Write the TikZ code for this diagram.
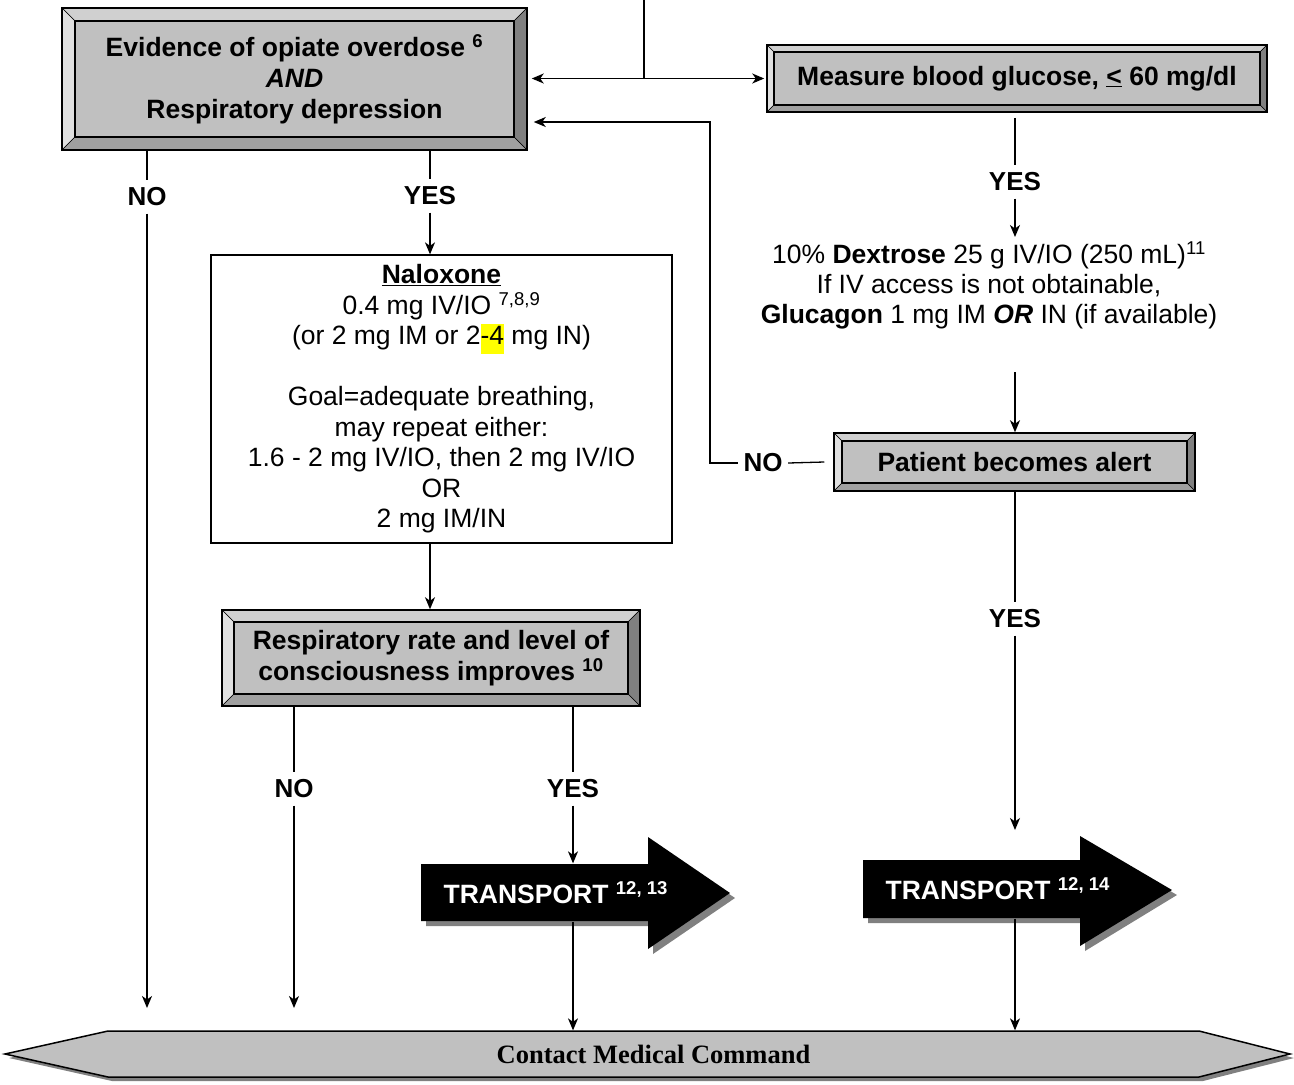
\documentclass[tikz,border=0pt]{standalone}
\usepackage{fontspec}
\setmainfont{Liberation Sans}
\newfontfamily\tnrfont{Liberation Serif}
\usetikzlibrary{arrows.meta,calc}
\setlength{\fboxsep}{0pt}
\definecolor{boxgray}{HTML}{C0C0C0}
\definecolor{bevlt}{HTML}{E0E0E0}
\definecolor{bevtp}{HTML}{D0D0D0}
\definecolor{bevrt}{HTML}{808080}
\definecolor{bevbt}{HTML}{A0A0A0}
\definecolor{shadowgray}{HTML}{808080}
\definecolor{hlyellow}{HTML}{FFFF00}
\tikzset{
  bevsize/.store in=\bevsz, bevsize=12pt,
  bevelbox/.style={draw, line width=1.5pt, fill=boxgray, inner sep=0pt, align=center,
    font=\fontsize{26.5}{31}\selectfont\bfseries,
    path picture={
      \filldraw[fill=bevtp, draw=black, line width=0.5pt]
        (path picture bounding box.north west) -- (path picture bounding box.north east)
        -- ([shift={(-\bevsz,-\bevsz)}]path picture bounding box.north east)
        -- ([shift={(\bevsz,-\bevsz)}]path picture bounding box.north west) -- cycle;
      \filldraw[fill=bevlt, draw=black, line width=0.5pt]
        (path picture bounding box.north west) -- (path picture bounding box.south west)
        -- ([shift={(\bevsz,\bevsz)}]path picture bounding box.south west)
        -- ([shift={(\bevsz,-\bevsz)}]path picture bounding box.north west) -- cycle;
      \filldraw[fill=bevrt, draw=black, line width=0.5pt]
        (path picture bounding box.north east) -- (path picture bounding box.south east)
        -- ([shift={(-\bevsz,\bevsz)}]path picture bounding box.south east)
        -- ([shift={(-\bevsz,-\bevsz)}]path picture bounding box.north east) -- cycle;
      \filldraw[fill=bevbt, draw=black, line width=0.5pt]
        (path picture bounding box.south west) -- (path picture bounding box.south east)
        -- ([shift={(-\bevsz,\bevsz)}]path picture bounding box.south east)
        -- ([shift={(\bevsz,\bevsz)}]path picture bounding box.south west) -- cycle;
      \draw[line width=1.8pt]
        ([shift={(\bevsz,\bevsz)}]path picture bounding box.south west) rectangle
        ([shift={(-\bevsz,-\bevsz)}]path picture bounding box.north east);
    }},
  arr/.style={-{Stealth[length=12pt,width=10pt,inset=3.5pt]}},
  darr/.style={{Stealth[length=12pt,width=10pt,inset=3.5pt]}-{Stealth[length=12pt,width=10pt,inset=3.5pt]}},
  lab/.style={font=\fontsize{26}{28}\selectfont\bfseries, inner xsep=5pt, inner ysep=0pt, minimum height=32pt},
  plain/.style={font=\fontsize{26.5}{30.5}\selectfont, align=center},
  body/.style={inner sep=0pt},
  transp/.style={inner sep=0pt, anchor=west, text=white, font=\fontsize{26.5}{28}\selectfont\bfseries},
}
\begin{document}
\begin{tikzpicture}[x=1pt,y=-1pt, line width=1.3pt]
\useasboundingbox (0,0) rectangle (1294,1085);

% ---------- boxes ----------
\node[bevelbox, bevsize=13pt, minimum width=465pt, minimum height=142pt] (ev) at (294.5,79)
  {Evidence of opiate overdose \textsuperscript{6}\\ \textit{AND}\\ Respiratory depression};
\node[bevelbox, bevsize=7pt, minimum width=500pt, minimum height=67pt] (glu) at (1017,78.5)
  {Measure blood glucose, \underline{<} 60 mg/dl};
\node[bevelbox, bevsize=8pt, minimum width=361pt, minimum height=58pt] (pat) at (1014.5,462)
  {Patient becomes alert};
\node[bevelbox, bevsize=12pt, minimum width=418pt, minimum height=96pt] (resp) at (431,658)
  {Respiratory rate and level of\\ consciousness improves \textsuperscript{10}};

\node[plain, draw, line width=1.3pt, minimum width=461pt, minimum height=288pt, inner sep=0pt] (nal) at (441.5,399)
  {\textbf{\underline{Naloxone}}\\ 0.4 mg IV/IO \textsuperscript{7,8,9}\\
   (or 2 mg IM or 2\colorbox{hlyellow}{\strut-4} mg IN)\\[30.5pt]
   Goal=adequate breathing,\\ may repeat either:\\ 1.6 - 2 mg IV/IO, then 2 mg IV/IO\\ OR\\ 2 mg IM/IN};

\node[plain, inner sep=0pt, font=\fontsize{26.5}{30}\selectfont] (dex) at (989,285)
  {10\% \textbf{Dextrose} 25 g IV/IO (250 mL)\textsuperscript{11}\\
   If IV access is not obtainable,\\
   \textbf{Glucagon} 1 mg IM \textbf{\textit{OR}} IN (if available)};

% ---------- transport arrows ----------
\fill[shadowgray, shift={(5,5)}] (421,864) -- (648,864) -- (648,837) -- (730,893) -- (648,949) -- (648,921) -- (421,921) -- cycle;
\fill[black] (421,864) -- (648,864) -- (648,837) -- (730,893) -- (648,949) -- (648,921) -- (421,921) -- cycle;
\fill[shadowgray, shift={(5,5)}] (863,860) -- (1080,860) -- (1080,836) -- (1172,890) -- (1080,946) -- (1080,918) -- (863,918) -- cycle;
\fill[black] (863,860) -- (1080,860) -- (1080,836) -- (1172,890) -- (1080,946) -- (1080,918) -- (863,918) -- cycle;
\node[body, minimum width=227pt, minimum height=57pt] (t1) at (534.5,892.5) {};
\node[body, minimum width=217pt, minimum height=58pt] (t2) at (971.5,889) {};
\node[transp] (t1txt) at (443,893) {TRANSPORT \textsuperscript{12, 13}};
\node[transp] (t2txt) at (885,889) {TRANSPORT \textsuperscript{12, 14}};

% ---------- banner ----------
\fill[shadowgray, shift={(4,4)}] (5,1054) -- (108,1031) -- (1199,1031) -- (1290,1054) -- (1199,1077) -- (108,1077) -- cycle;
\filldraw[fill=boxgray, draw=black, line width=1.5pt] (5,1054) -- (108,1031) -- (1199,1031) -- (1290,1054) -- (1199,1077) -- (108,1077) -- cycle;
\node[inner sep=0pt, minimum width=1091pt, minimum height=46pt, font=\tnrfont\bfseries\fontsize{26.5}{28}\selectfont] (cmc) at (653.5,1054) {Contact Medical Command};

% ---------- labels ----------
\node[lab] (noA) at (147,197) {NO};
\node[lab] (yesA) at (430,196) {YES};
\node[lab] (yesG) at (1015,182) {YES};
\node[lab] (noP) at (763,463) {NO};
\node[lab] (yesP) at (1015,619) {YES};
\node[lab] (noR) at (294,789) {NO};
\node[lab] (yesR) at (573,789) {YES};

% ---------- coordinates ----------
\coordinate (topin) at (644,0);
\coordinate (fb) at (710,122);
\coordinate (dexin) at (1015,237);
\coordinate (dexout) at (1015,372);
\coordinate (t2in) at (1015,830);
\coordinate (endA) at (147,1008);
\coordinate (endR) at (294,1008);

% ---------- connectors ----------
\draw (topin) -- (topin |- glu.west);
\draw[darr, shorten <=4pt, shorten >=2pt] (ev.east |- glu.west) -- (glu.west);
\draw[arr, shorten >=6pt] (noP.west) -| (fb) -- (ev.east |- fb);
\draw ([xshift=-9pt]pat.west) -- (noP.east);

\draw (ev.south -| noA) -- (noA.north);
\draw[arr] (noA.south) -- (endA);
\draw (ev.south -| yesA) -- (yesA.north);
\draw[arr] (yesA.south) -- (yesA.south |- nal.north);

\draw[arr] (nal.south -| yesA) -- (resp.north -| yesA);

\draw (resp.south -| noR) -- (noR.north);
\draw[arr] (noR.south) -- (endR);
\draw (resp.south -| yesR) -- (yesR.north);
\draw[arr] (yesR.south) -- (yesR.south |- t1.north);
\draw[arr] (t1.south -| yesR) -- (cmc.north -| yesR);

\draw ([yshift=-5pt]glu.south -| yesG) -- (yesG.north);
\draw[arr] (yesG.south) -- (dexin);
\draw[arr] (dexout) -- (pat.north -| dexout);
\draw (pat.south -| yesP) -- (yesP.north);
\draw[arr] (yesP.south) -- (t2in);
\draw[arr] (t2.south -| yesP) -- (cmc.north -| yesP);
\end{tikzpicture}
\end{document}
